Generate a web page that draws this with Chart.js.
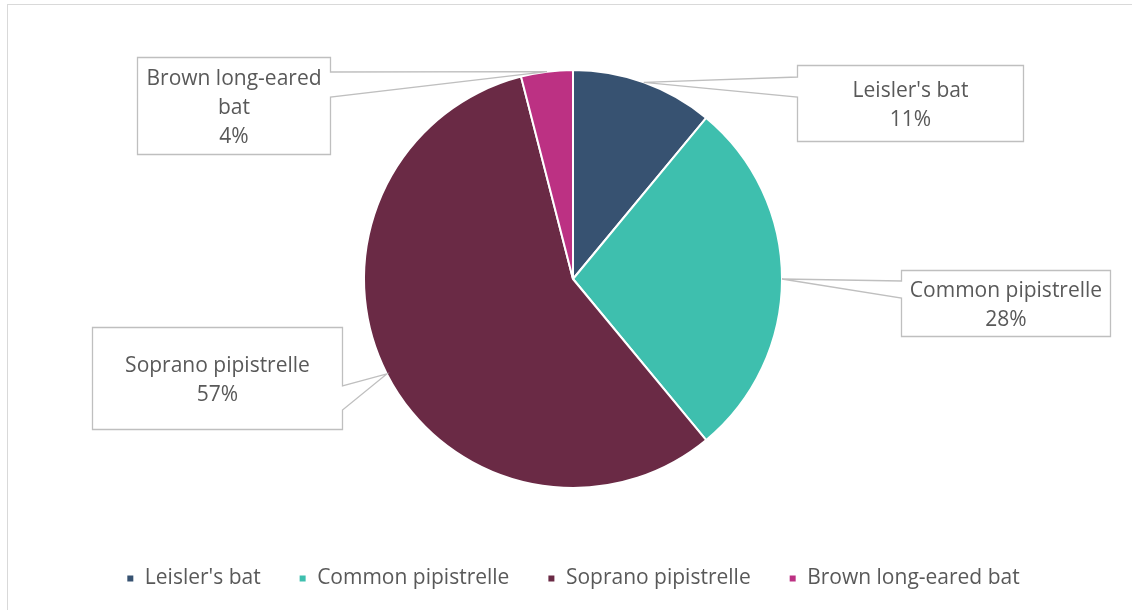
<!DOCTYPE html>
<html>
<head>
<meta charset="utf-8">
<script src="https://cdn.jsdelivr.net/npm/chart.js@4.4.0/dist/chart.umd.min.js"></script>
<style>
  html, body { margin: 0; padding: 0; background: #fff; }
  #wrap { position: relative; width: 1132px; height: 610px; }
</style>
</head>
<body>
<div id="wrap"><canvas id="pie_chart"></canvas></div>
<script>
// DATA

const species = ["Leisler's bat", "Common pipistrelle", "Soprano pipistrelle", "Brown long-eared bat"];
const share_pct = [11, 28, 57, 4];
const slice_colours = ['#375271', '#3EBFAE', '#6A2A45', '#BC3183'];

// callout boxes, one per slice: box rect + where the pointer leaves the box edge
const callout_boxes = [
  { x: 797, y: 65,  w: 226, h: 76,  side: 'left',  b1: 77,  b2: 97 },
  { x: 901, y: 270, w: 209, h: 66,  side: 'left',  b1: 281, b2: 298 },
  { x: 92,  y: 327, w: 250, h: 102, side: 'right', b1: 386, b2: 410 },
  { x: 137, y: 57,  w: 193, h: 97,  side: 'right', b1: 72,  b2: 97 },
];

const font_size = 21;
const label_font = font_size + 'px "Open Sans", sans-serif';
const text_colour = '#595959';

// light frame round the whole chart
const framePlugin = {
  id: 'frame',
  beforeDraw(chart) {
    const ctx = chart.ctx;
    ctx.save();
    ctx.strokeStyle = '#D9D9D9';
    ctx.lineWidth = 1;
    ctx.strokeRect(7.5, 4.5, chart.width + 20, chart.height + 20);
    ctx.restore();
  }
};

function wrapText(ctx, text, maxWidth) {
  const words = text.split(' ');
  const lines = [];
  let line = '';
  words.forEach((word) => {
    const test = line ? line + ' ' + word : word;
    if (ctx.measureText(test).width > maxWidth && line) {
      lines.push(line);
      line = word;
    } else {
      line = test;
    }
  });
  lines.push(line);
  return lines;
}

// callout labels with pointers to the middle of each slice's edge
const calloutPlugin = {
  id: 'callouts',
  afterDatasetsDraw(chart) {
    const ctx = chart.ctx;
    const meta = chart.getDatasetMeta(0);
    ctx.save();
    meta.data.forEach((arc, i) => {
      const box = callout_boxes[i];
      const p = arc.getProps(['x', 'y', 'startAngle', 'endAngle', 'outerRadius'], true);
      const mid = (p.startAngle + p.endAngle) / 2;
      const tx = p.x + Math.cos(mid) * p.outerRadius;
      const ty = p.y + Math.sin(mid) * p.outerRadius;

      const x = box.x + 0.5, y = box.y + 0.5, w = box.w, h = box.h;
      ctx.beginPath();
      if (box.side === 'left') {
        ctx.moveTo(x, y);
        ctx.lineTo(x + w, y);
        ctx.lineTo(x + w, y + h);
        ctx.lineTo(x, y + h);
        ctx.lineTo(x, box.b2);
        ctx.lineTo(tx, ty);
        ctx.lineTo(x, box.b1);
      } else {
        ctx.moveTo(x, y);
        ctx.lineTo(x + w, y);
        ctx.lineTo(x + w, box.b1);
        ctx.lineTo(tx, ty);
        ctx.lineTo(x + w, box.b2);
        ctx.lineTo(x + w, y + h);
        ctx.lineTo(x, y + h);
      }
      ctx.closePath();
      ctx.fillStyle = '#FFFFFF';
      ctx.fill();
      ctx.strokeStyle = '#BFBFBF';
      ctx.lineWidth = 1.3;
      ctx.stroke();

      ctx.font = label_font;
      ctx.fillStyle = text_colour;
      ctx.textAlign = 'center';
      ctx.textBaseline = 'middle';
      const lines = wrapText(ctx, chart.data.labels[i], w - 8);
      lines.push(chart.data.datasets[0].data[i] + '%');
      const lh = 29;
      const cx = x + w / 2;
      const cy = y + h / 2 + 2;
      lines.forEach((ln, k) => {
        ctx.fillText(ln, cx, cy + (k - (lines.length - 1) / 2) * lh);
      });
    });
    ctx.restore();
  }
};

const chart = document.getElementById('pie_chart').getContext('2d');

let my_chart = new Chart(chart, {
  type: 'pie',
  data: {
    labels: species,
    datasets: [{
      data: share_pct,
      backgroundColor: slice_colours,
      borderColor: '#FFFFFF',
      borderWidth: 2,
      radius: 209,
    }],
  },
  options: {
    responsive: true,
    maintainAspectRatio: false,
    animation: false,
    layout: { padding: { top: 28, left: 14, right: 0, bottom: 11 } },
    plugins: {
      tooltip: { enabled: false },
      legend: {
        position: 'bottom',
        labels: {
          font: { family: '"Open Sans", sans-serif', size: font_size },
          color: text_colour,
          boxWidth: 8,
          boxHeight: 8,
          padding: 38,
        },
      },
    },
  },
  plugins: [framePlugin, calloutPlugin],
});
</script>
</body>
</html>
